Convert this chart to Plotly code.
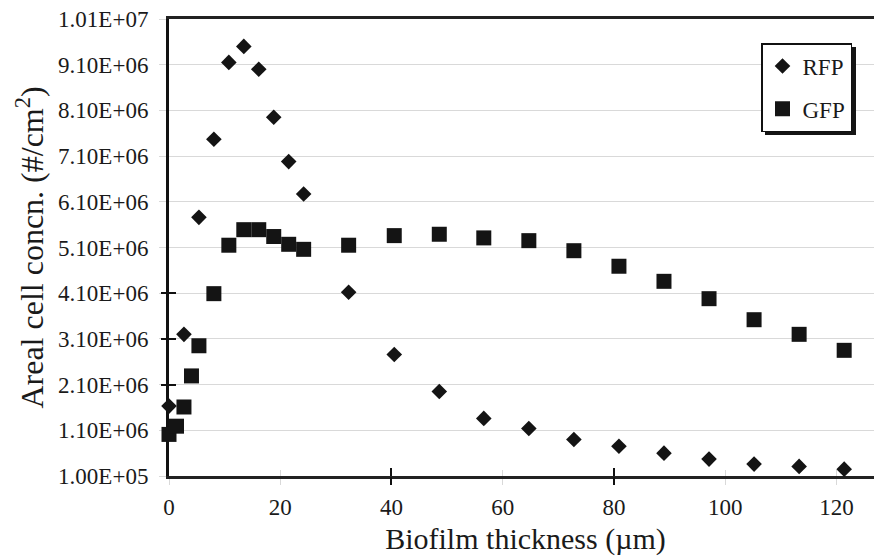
import plotly.graph_objects as go

# ---------------- data ----------------
THICKNESS_RFP = [0, 2.69, 5.38, 8.07, 10.76, 13.45, 16.14, 18.83, 21.52, 24.21,
                 32.3, 40.5, 48.6, 56.6, 64.7, 72.8, 80.9, 89.0, 97.1, 105.2, 113.3, 121.4]
RFP = [1.63e6, 3.20e6, 5.76e6, 7.47e6, 9.15e6, 9.50e6, 9.00e6, 7.95e6, 6.98e6, 6.27e6,
       4.12e6, 2.76e6, 1.95e6, 1.36e6, 1.14e6, 0.90e6, 0.75e6, 0.60e6, 0.47e6, 0.36e6, 0.31e6, 0.25e6]

THICKNESS_GFP = [0, 1.35, 2.69, 4.04, 5.38, 8.07, 10.76, 13.45, 16.14, 18.83, 21.52, 24.21,
                 32.3, 40.5, 48.6, 56.6, 64.7, 72.8, 80.9, 89.0, 97.1, 105.2, 113.3, 121.4]
GFP = [1.01e6, 1.19e6, 1.61e6, 2.29e6, 2.95e6, 4.09e6, 5.15e6, 5.49e6, 5.49e6, 5.34e6, 5.17e6, 5.06e6,
       5.15e6, 5.36e6, 5.39e6, 5.31e6, 5.25e6, 5.03e6, 4.69e6, 4.36e6, 3.98e6, 3.52e6, 3.20e6, 2.85e6]

X_TICK_VALUES = [0, 20, 40, 60, 80, 100, 120]
X_TICK_LABELS = ["0", "20", "40", "60", "80", "100", "120"]
X_MAJOR_TICKS = [40, 80]
Y_TICK_VALUES = [1.0e5, 1.1e6, 2.1e6, 3.1e6, 4.1e6, 5.1e6, 6.1e6, 7.1e6, 8.1e6, 9.1e6, 1.01e7]
Y_TICK_LABELS = ["1.00E+05", "1.10E+06", "2.10E+06", "3.10E+06", "4.10E+06", "5.10E+06",
                 "6.10E+06", "7.10E+06", "8.10E+06", "9.10E+06", "1.01E+07"]
Y_MAJOR_TICKS = [2.1e6, 3.1e6, 4.1e6]

X_RANGE = [0, 128.2]
Y_RANGE = [1.0e5, 1.01e7]

FONT = "Liberation Serif, Times New Roman, serif"
INK = "#141414"
GRID = "#d9d9d9"
TEXT = "#1a1a1a"

# page body has an 8px margin, so the figure is sized to fit the 882x560 window
W, H = 874, 552
ML, MR, MT, MB = 161, 0, 11, 84
PW, PH = W - ML - MR, H - MT - MB


def px(xf):
    """figure pixel x -> paper coordinate"""
    return (xf - ML) / PW


def py(yf):
    """figure pixel y -> paper coordinate"""
    return 1 - (yf - MT) / PH


fig = go.Figure()
fig.add_trace(go.Scatter(x=THICKNESS_RFP, y=RFP, mode="markers", name="RFP",
                         legendgroup="r", cliponaxis=False,
                         marker=dict(symbol="diamond", size=12, color=INK)))
fig.add_trace(go.Scatter(x=THICKNESS_GFP, y=GFP, mode="markers", name="GFP",
                         legendgroup="g", cliponaxis=False,
                         marker=dict(symbol="square", size=15, color=INK)))
# empty helper traces so the overlay axes (extra tick marks) are drawn
for xa, ya in [("x2", "y"), ("x3", "y"), ("x", "y2"), ("x", "y3")]:
    fig.add_trace(go.Scatter(x=[], y=[], xaxis=xa, yaxis=ya, showlegend=False,
                             hoverinfo="skip"))

tickfont = dict(family=FONT, size=23, color=TEXT)
overlay = dict(showline=False, showgrid=False, zeroline=False, showticklabels=False,
               fixedrange=True, automargin=False)

# legend box (figure pixels) and its drop shadow
LEG_RIGHT, LEG_TOP, LEG_W, LEG_H, SH = 844, 35, 91, 88, 4
fig.add_shape(type="rect", xref="paper", yref="paper", layer="above",
              x0=px(LEG_RIGHT - LEG_W + SH), x1=px(LEG_RIGHT + SH),
              y0=py(LEG_TOP + LEG_H + SH), y1=py(LEG_TOP + SH),
              fillcolor="#151515", line=dict(width=0))

fig.update_layout(
    width=W, height=H,
    margin=dict(l=ML, r=MR, t=MT, b=MB, autoexpand=False),
    paper_bgcolor="white", plot_bgcolor="white",
    font=dict(family=FONT, color=TEXT),
    showlegend=True,
    legend=dict(x=px(LEG_RIGHT), xanchor="right", y=py(LEG_TOP), yanchor="top",
                bgcolor="white", bordercolor="#111", borderwidth=1.5,
                font=dict(family=FONT, size=23, color=TEXT),
                tracegroupgap=10, itemwidth=30),
    xaxis=dict(range=X_RANGE, tickvals=X_TICK_VALUES, ticktext=X_TICK_LABELS,
               ticks="outside", ticklen=6, tickwidth=1, tickcolor=GRID,
               ticklabelstandoff=3, tickfont=tickfont, automargin=False,
               ticklabeloverflow="allow",
               showline=True, linecolor="#222", linewidth=2.5, mirror=True,
               showgrid=False, zeroline=False, layer="below traces",
               title=dict(text="Biofilm thickness (µm)", standoff=9,
                          font=dict(family=FONT, size=30, color=TEXT))),
    yaxis=dict(range=Y_RANGE, tickvals=Y_TICK_VALUES, ticktext=Y_TICK_LABELS,
               ticks="outside", ticklen=7, tickwidth=1, tickcolor=GRID,
               ticklabelstandoff=6, tickfont=tickfont, automargin=False,
               ticklabeloverflow="allow",
               showline=True, linecolor="#111", linewidth=3,
               showgrid=True, gridcolor=GRID, gridwidth=1, zeroline=False,
               layer="below traces",
               title=dict(text="Areal cell concn. (#/cm<sup>2</sup>)", standoff=5,
                          font=dict(family=FONT, size=32, color=TEXT))),
    xaxis2=dict(overlaying="x", anchor="y", side="bottom", range=X_RANGE,
                tickvals=X_MAJOR_TICKS, ticks="inside", ticklen=8, tickwidth=2,
                tickcolor="#111",
                minor=dict(tickvals=[v for v in X_TICK_VALUES if v not in X_MAJOR_TICKS],
                           ticks="inside", ticklen=6, tickwidth=1, tickcolor=GRID),
                **overlay),
    xaxis3=dict(overlaying="x", anchor="y", side="bottom", range=X_RANGE,
                tickvals=X_MAJOR_TICKS, ticks="outside", ticklen=8, tickwidth=2,
                tickcolor="#111", **overlay),
    yaxis2=dict(overlaying="y", anchor="x", side="left", range=Y_RANGE,
                tickvals=Y_MAJOR_TICKS, ticks="inside", ticklen=7, tickwidth=2,
                tickcolor="#111", **overlay),
    yaxis3=dict(overlaying="y", anchor="x", side="left", range=Y_RANGE,
                tickvals=Y_MAJOR_TICKS, ticks="outside", ticklen=7, tickwidth=2,
                tickcolor="#111", **overlay),
)

fig.write_html("out.html")
